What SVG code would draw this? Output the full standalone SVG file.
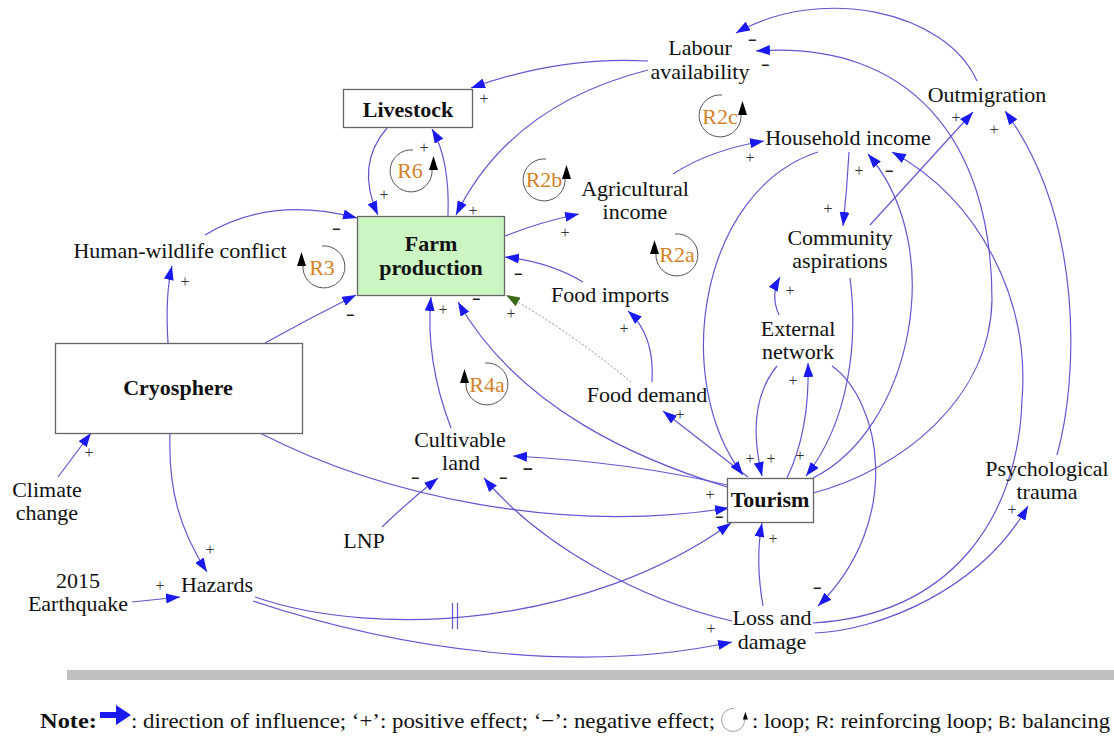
<svg xmlns="http://www.w3.org/2000/svg" width="1114" height="737" viewBox="0 0 1114 737">
<defs>
<style>
.n{font-family:"Liberation Serif","Times New Roman",serif;font-size:22px;fill:#111;text-anchor:middle}
.bd{font-weight:bold}
.box{fill:#fff;stroke:#666;stroke-width:1.3}
.c{fill:none;stroke:#6257d2;stroke-width:1.2;marker-end:url(#ah)}
.p{font-family:"Liberation Serif",serif;font-size:16px;fill:#333;text-anchor:middle;dominant-baseline:central}
.m{font-family:"Liberation Sans",sans-serif;font-size:14px;font-weight:bold;fill:#222;text-anchor:middle;dominant-baseline:central}
.lp{fill:none;stroke:#555;stroke-width:1}
.lt{font-family:"Liberation Serif",serif;font-size:22px;fill:#d4822a;text-anchor:middle}
.nt{font-family:"Liberation Serif","Times New Roman",serif;font-size:22px;fill:#111}
</style>
<marker id="ah" markerUnits="userSpaceOnUse" markerWidth="14" markerHeight="10" refX="14" refY="5" orient="auto" viewBox="0 0 14 10"><path d="M0,0 L14,5 L0,10 z" fill="#1a1af0"/></marker>
<marker id="ahg" markerUnits="userSpaceOnUse" markerWidth="14" markerHeight="10" refX="14" refY="5" orient="auto" viewBox="0 0 14 10"><path d="M0,0 L14,5 L0,10 z" fill="#3d6b1c"/></marker>
<g id="loopR"><path class="lp" d="M2,-21 A21 21 0 1 0 21,-2"/><polygon points="22.5,-15 18,-1 27,-1" fill="#000"/></g>
<g id="loopL"><path class="lp" d="M-2,-21 A21 21 0 1 1 -21,-2"/><polygon points="-22.5,-15 -27,-1 -18,-1" fill="#000"/></g>
</defs>
<rect width="1114" height="737" fill="#fff"/>

<g id="connectors">
<path class="c" d="M648,61 Q560,56 471,88"/>
<path class="c" d="M648,70 Q510,105 456,215"/>
<path class="c" d="M977,81 C945,10 820,-15 736,33"/>
<path class="c" d="M813,493 C900,470 990,400 992,300 C992,140 910,40 756,51"/>
<path class="c" d="M849,152 Q847,190 843,226"/>
<path class="c" d="M870,225 L973,112"/>
<path class="c" d="M1057,455 C1078,380 1085,220 1005,111"/>
<path class="c" d="M673,174 Q710,150 764,141"/>
<path class="c" d="M505,236 Q540,222 579,214"/>
<path class="c" d="M387,128 Q355,165 378,215"/>
<path class="c" d="M448,216 Q450,160 432,129"/>
<path class="c" d="M205,235 Q270,195 357,218"/>
<path class="c" d="M168,343 Q165,295 172,266"/>
<path class="c" d="M265,343 Q310,318 356,295"/>
<path class="c" d="M583,282 Q550,262 505,257"/>
<path class="c" d="M652,382 Q655,335 628,311"/>
<path d="M631,382 Q572,333 506,295" fill="none" stroke="#888" stroke-width="1" stroke-dasharray="2 2" marker-end="url(#ahg)"/>
<path class="c" d="M451,428 Q425,360 431,297"/>
<path class="c" d="M727,487 C640,460 520,410 458,302"/>
<path class="c" d="M748,477 Q700,440 663,411"/>
<path class="c" d="M818,152 C700,190 670,380 743,475"/>
<path class="c" d="M777,366 Q745,405 762,476"/>
<path class="c" d="M787,478 Q810,430 808,363"/>
<path class="c" d="M850,278 C858,340 850,420 806,476"/>
<path class="c" d="M813,478 C910,430 950,250 868,154"/>
<path class="c" d="M813,623 C950,615 1018,520 1022,400 C1030,300 980,200 892,152"/>
<path class="c" d="M815,633 C880,630 980,590 1028,506"/>
<path class="c" d="M832,366 C880,400 905,520 818,606"/>
<path class="c" d="M763,606 Q755,560 762,523"/>
<path class="c" d="M255,597 C380,640 590,625 731,523"/>
<path d="M452.5,603 V629 M457.5,603 V629" stroke="#6257d2" stroke-width="1.2" fill="none"/>
<path class="c" d="M253,601 C400,650 580,675 732,642"/>
<path class="c" d="M260,433 C380,495 560,535 729,508"/>
<path class="c" d="M727,485 Q630,462 513,456"/>
<path class="c" d="M732,621 C640,600 540,545 484,478"/>
<path class="c" d="M382,527 Q410,500 438,478"/>
<path class="c" d="M58,477 L91,433"/>
<path class="c" d="M170,433 C168,490 180,530 207,572"/>
<path class="c" d="M132,602 L180,597"/>
<path class="c" d="M779,315 Q770,295 780,277"/>
</g>

<g id="polarities">
<text class="p" x="484" y="98">+</text>
<text class="p" x="473" y="210">+</text>
<text class="p" x="384" y="194">+</text>
<text class="p" x="424" y="147">+</text>
<text class="m" x="752" y="40">−</text>
<text class="m" x="765" y="65">−</text>
<text class="p" x="750" y="157">+</text>
<text class="p" x="859" y="170">+</text>
<text class="m" x="889" y="171">−</text>
<text class="p" x="828" y="208">+</text>
<text class="p" x="956" y="117">+</text>
<text class="p" x="994" y="129">+</text>
<text class="p" x="565" y="232">+</text>
<text class="m" x="336" y="229">−</text>
<text class="p" x="185" y="281">+</text>
<text class="m" x="350" y="315">−</text>
<text class="m" x="518" y="274">−</text>
<text class="p" x="443" y="309">+</text>
<text class="m" x="476" y="299">−</text>
<text class="p" x="511" y="313">+</text>
<text class="p" x="624" y="328">+</text>
<text class="p" x="680" y="414">+</text>
<text class="p" x="750" y="458">+</text>
<text class="p" x="771" y="458">+</text>
<text class="p" x="800" y="455">+</text>
<text class="p" x="793" y="380">+</text>
<text class="p" x="790" y="290">+</text>
<text class="p" x="710" y="494">+</text>
<text class="m" x="719" y="517">−</text>
<text class="p" x="773" y="538">+</text>
<text class="m" x="528" y="469" style="font-size:17px">−</text>
<text class="m" x="503" y="478">−</text>
<text class="m" x="415" y="478">−</text>
<text class="p" x="89" y="452">+</text>
<text class="p" x="210" y="549">+</text>
<text class="p" x="160" y="585">+</text>
<text class="m" x="817" y="588">−</text>
<text class="p" x="711" y="628">+</text>
<text class="p" x="1012" y="509">+</text>
</g>

<g id="loops">
<use href="#loopR" x="411" y="171"/><text class="lt" x="410" y="178">R6</text>
<use href="#loopR" x="544" y="180"/><text class="lt" x="544" y="187">R2b</text>
<use href="#loopR" x="720" y="116"/><text class="lt" x="720" y="124">R2c</text>
<use href="#loopL" x="324" y="267"/><text class="lt" x="322" y="275">R3</text>
<use href="#loopL" x="677" y="255"/><text class="lt" x="677" y="262">R2a</text>
<use href="#loopL" x="487" y="384"/><text class="lt" x="487" y="392">R4a</text>
</g>

<g id="labour"><text class="n"><tspan x="700" y="55">Labour</tspan><tspan x="700" y="79">availability</tspan></text></g>
<g id="livestock"><rect class="box" x="343.5" y="89.5" width="129" height="38"/><text class="n bd" x="408" y="117">Livestock</text></g>
<g id="outmigration"><text class="n" x="987" y="102">Outmigration</text></g>
<g id="household"><text class="n" x="848" y="145">Household income</text></g>
<g id="agri"><text class="n"><tspan x="635" y="196">Agricultural</tspan><tspan x="635" y="219">income</tspan></text></g>
<g id="farm"><rect x="357.5" y="216.5" width="147" height="79" fill="#ccf5c4" stroke="#666" stroke-width="1.3"/><text class="n bd"><tspan x="431" y="251">Farm</tspan><tspan x="431" y="275">production</tspan></text></g>
<g id="hwc"><text class="n" x="180" y="258">Human-wildlife conflict</text></g>
<g id="community"><text class="n"><tspan x="840" y="245">Community</tspan><tspan x="840" y="268">aspirations</tspan></text></g>
<g id="foodimports"><text class="n" x="610" y="302">Food imports</text></g>
<g id="external"><text class="n"><tspan x="798" y="336">External</tspan><tspan x="798" y="359">network</tspan></text></g>
<g id="cryosphere"><rect class="box" x="55.5" y="343.5" width="247" height="90"/><text class="n bd" x="178" y="395">Cryosphere</text></g>
<g id="fooddemand"><text class="n" x="647" y="402">Food demand</text></g>
<g id="cultivable"><text class="n"><tspan x="460" y="447">Cultivable</tspan><tspan x="461" y="470">land</tspan></text></g>
<g id="tourism"><rect class="box" x="727.5" y="478.5" width="86" height="44"/><text class="n bd" x="770" y="507">Tourism</text></g>
<g id="psych"><text class="n"><tspan x="1047" y="476">Psychological</tspan><tspan x="1047" y="499">trauma</tspan></text></g>
<g id="climate"><text class="n"><tspan x="47" y="497">Climate</tspan><tspan x="47" y="520">change</tspan></text></g>
<g id="lnp"><text class="n" x="364" y="548">LNP</text></g>
<g id="earthquake"><text class="n"><tspan x="78" y="588">2015</tspan><tspan x="78" y="611">Earthquake</tspan></text></g>
<g id="hazards"><text class="n" x="217" y="592">Hazards</text></g>
<g id="loss"><text class="n"><tspan x="772" y="625">Loss and</tspan><tspan x="772" y="649">damage</tspan></text></g>

<rect x="67" y="670" width="1047" height="10" fill="#c0c0c0"/>
<g id="note">
<text class="nt bd" x="40" y="728" textLength="57" lengthAdjust="spacingAndGlyphs">Note:</text>
<polygon points="100,712 116,712 116,705 131,715 116,725 116,718 100,718" fill="#1a1af0"/>
<text class="nt" x="131" y="728" textLength="584" lengthAdjust="spacingAndGlyphs">: direction of influence; ‘+’: positive effect; ‘−’: negative effect;</text>
<use href="#loopR" transform="translate(733,720) scale(0.55)"/>
<text class="nt" x="752" y="728" textLength="358" lengthAdjust="spacingAndGlyphs">: loop; <tspan style="font-family:'Liberation Sans',sans-serif;font-size:17px">R</tspan>: reinforcing loop; <tspan style="font-family:'Liberation Sans',sans-serif;font-size:17px">B</tspan>: balancing</text>
</g>
</svg>
